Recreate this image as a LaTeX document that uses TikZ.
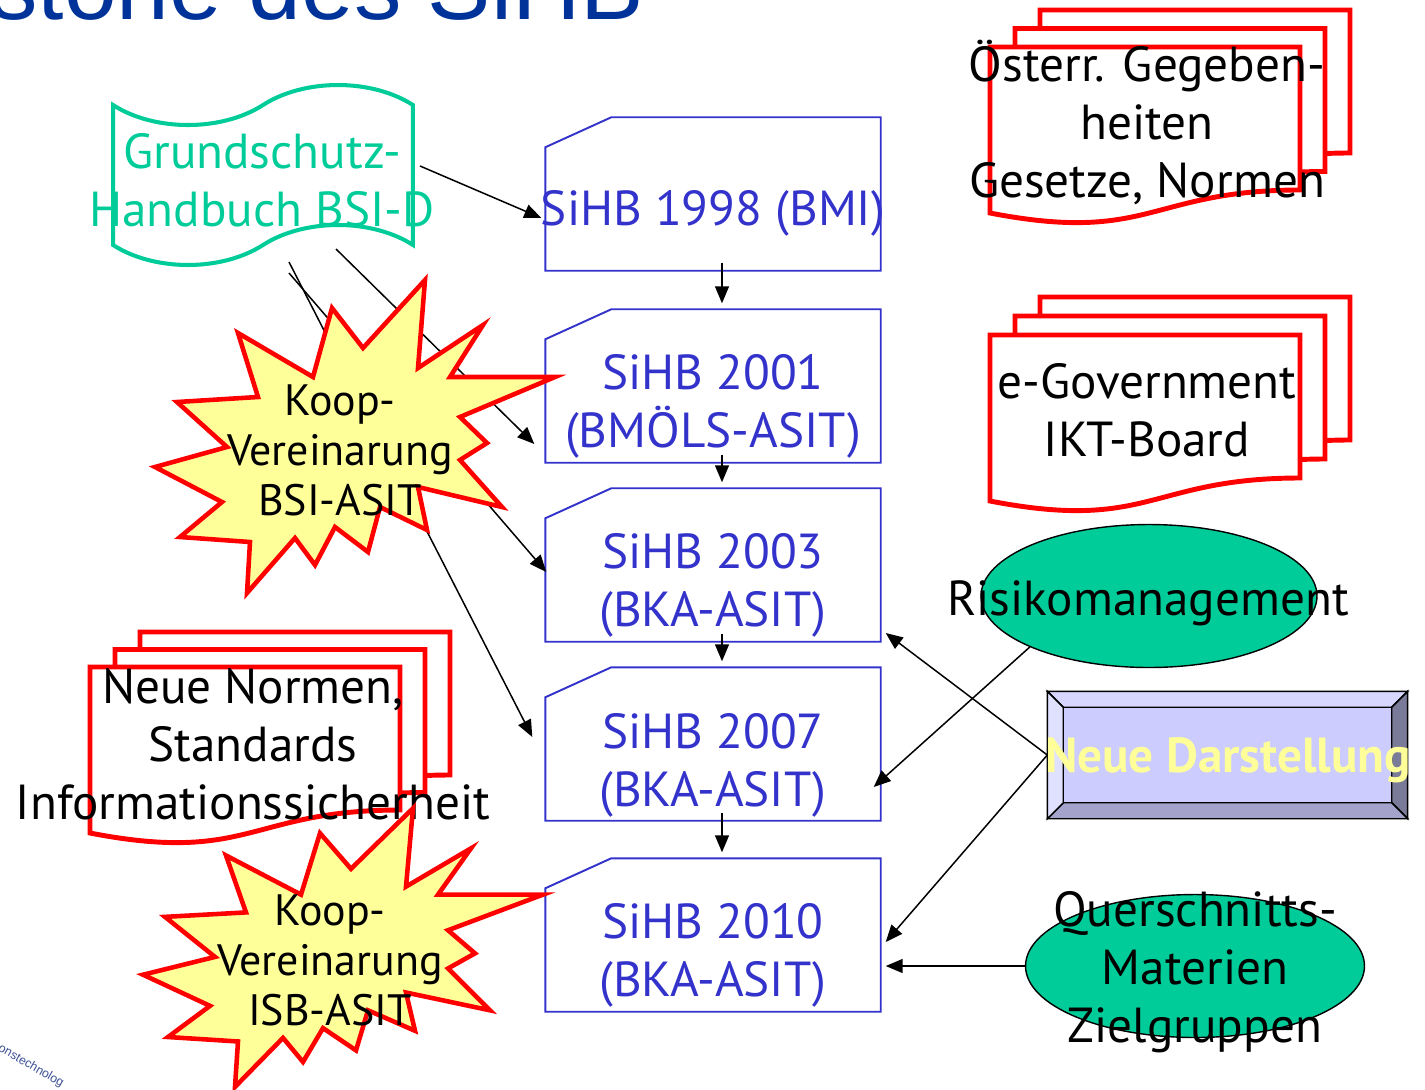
\documentclass[tikz,border=0pt]{standalone}
\usepackage{fontspec}
\setmainfont{PT Sans}
\newfontfamily\titlefont{Liberation Sans}
\usetikzlibrary{arrows.meta,shapes,positioning,calc}

\definecolor{sihbblue}{RGB}{51,51,204}
\definecolor{gsgreen}{RGB}{0,204,153}
\definecolor{burstyellow}{RGB}{255,255,153}
\definecolor{titleblue}{RGB}{0,51,153}
\definecolor{ndface}{RGB}{204,204,255}
\definecolor{ndtop}{RGB}{214,214,255}
\definecolor{ndleft}{RGB}{224,224,255}
\definecolor{ndbottom}{RGB}{163,163,204}
\definecolor{ndright}{RGB}{122,122,153}
\definecolor{logoblue}{RGB}{60,80,150}

\tikzset{
  bigtext/.style={font=\fontsize{28}{33}\selectfont, align=center, inner sep=0pt},
  bursttext/.style={font=\fontsize{25}{28.5}\selectfont, align=center, inner sep=0pt},
  sihb/.style={minimum width=6.68cm, minimum height=3.04cm, inner sep=0pt},
  sihbline/.style={draw=sihbblue, line width=1.1pt},
  docline/.style={draw=red, fill=white, line width=2.8pt},
  burstline/.style={draw=red, fill=burstyellow, line width=2.6pt},
  ell/.style={ellipse, draw=black, fill=gsgreen, line width=0.8pt,
    minimum width=6.72cm, minimum height=2.86cm, inner sep=0pt},
  docpage/.pic={
    \path[docline] (0,0) -- (310,0) -- (310,143)
      .. controls (160,143) and (160,197) .. (0,166) -- cycle;
  },
  burst/.pic={
    \path[burstline] (85,-157) -- (78,-69) -- (143,-112) -- (110,-60) -- (215,-60)
      -- (120,-20) -- (147,6) -- (120,23) -- (162,70) -- (78,50) -- (87,93)
      -- (40,70) -- (28,115) -- (-5,90) -- (-25,128) -- (-45,101) -- (-93,156)
      -- (-90,105) -- (-160,100) -- (-118,65) -- (-185,30) -- (-113,10)
      -- (-163,-35) -- (-82,-40) -- (-102,-104) -- (-27,-60) -- (-8,-129)
      -- (23,-89) -- cycle;
  },
}

\begin{document}
\begin{tikzpicture}[x=0.02cm, y=-0.02cm, line width=0.85pt,
    >={Triangle[length=0.34cm, width=0.28cm]}]
  \useasboundingbox (0,0) rectangle (1425,1089);
  \clip (0,0) rectangle (1425,1089);

  % title, cut off at the top
  \node[anchor=base east, inner sep=0pt, text=titleblue,
    font=\titlefont\fontsize{54}{60}\selectfont] (title) at (645,19) {stone des SiHB};

  % document stacks
  \foreach \d in {2,1,0} {
    \pic[shift={(25*\d,-18.5*\d)}] at (990,47) {docpage};
    \pic[shift={(25*\d,-19*\d)}] at (990,335) {docpage};
    \pic[shift={(25*\d,-17.5*\d)}] at (90,667) {docpage};
  }
  \node[bigtext] (oest) at (1147,122) {Österr. Gegeben-\\heiten\\Gesetze, Normen};
  \node[bigtext] (egov) at (1147,410) {e-Government\\IKT-Board};
  \node[bigtext] (normen) at (253,744) {Neue Normen,\\Standards\\Informationssicherheit};

  % Grundschutzhandbuch
  \node[tape, draw=gsgreen, line width=2.3pt, minimum width=6cm, minimum height=3.6cm,
    tape bend height=0.8cm] (gs) at (263,175) {};
  \node[bigtext, text=gsgreen] (gstext) at (262,180) {Grundschutz-\\Handbuch BSI-D};

  % SiHB versions
  \node[sihb] (b98) at (713,194) {};
  \node[sihb] (b01) at (713,386) {};
  \node[sihb] (b03) at (713,565) {};
  \node[sihb] (b07) at (713,744) {};
  \node[sihb] (b10) at (713,935) {};
  \foreach \n in {b98,b01,b03,b07,b10}
    \draw[sihbline] ($(\n.north west)+(0,30)$) -- ($(\n.north west)+(66,0)$)
      -- (\n.north east) -- (\n.south east) -- (\n.south west) -- cycle;
  \node[bigtext, text=sihbblue] (t98) at (713,213) {SiHB 1998 (BMI)};
  \node[bigtext, text=sihbblue] (t01) at (713,406) {SiHB 2001\\(BMÖLS-ASIT)};
  \node[bigtext, text=sihbblue] (t03) at (713,585) {SiHB 2003\\(BKA-ASIT)};
  \node[bigtext, text=sihbblue] (t07) at (713,765) {SiHB 2007\\(BKA-ASIT)};
  \node[bigtext, text=sihbblue] (t10) at (713,955) {SiHB 2010\\(BKA-ASIT)};

  \foreach \a/\b in {b98/b01,b01/b03,b03/b07,b07/b10}
    \path[->] ($(\a.south)+(9,-8)$) edge ($(\b.north)+(9,-6)$);

  % right hand side
  \node[ell] (risk) at (1149,596) {};
  \node[bigtext] (risktext) at (1148,603) {Risikomanagement};
  \node[ell, minimum width=6.78cm] (quer) at (1195,966) {};
  \node[bigtext] (quertext) at (1195,972) {Querschnitts-\\Materien\\Zielgruppen};

  \node[minimum width=7.18cm, minimum height=2.52cm, inner sep=0pt] (nd) at (1227.5,755) {};
  \coordinate (nd-inw) at ($(nd.north west)+(16,16)$);
  \coordinate (nd-ine) at ($(nd.north east)+(-16,16)$);
  \coordinate (nd-ise) at ($(nd.south east)+(-16,-16)$);
  \coordinate (nd-isw) at ($(nd.south west)+(16,-16)$);
  \filldraw[fill=ndtop] (nd.north west) -- (nd.north east) -- (nd-ine) -- (nd-inw) -- cycle;
  \filldraw[fill=ndright] (nd.north east) -- (nd.south east) -- (nd-ise) -- (nd-ine) -- cycle;
  \filldraw[fill=ndbottom] (nd.south east) -- (nd.south west) -- (nd-isw) -- (nd-ise) -- cycle;
  \filldraw[fill=ndleft] (nd.south west) -- (nd.north west) -- (nd-inw) -- (nd-isw) -- cycle;
  \filldraw[fill=ndface] (nd-inw) rectangle (nd-ise);
  \node[bigtext, font=\bfseries\fontsize{28}{33}\selectfont, text=burstyellow] (ndtext)
    at (1228,760) {Neue Darstellung};

  % connectors
  \path[->] ($(gs.east)+(5,-9)$) edge ($(b98.west)+(-4,24)$);
  \path[->] ($(gs.center)+(73,74)$) edge ($(b01.west)+(-11,58)$);
  \path[->] ($(gs.center)+(26,98)$) edge ($(b03.west)+(1,7)$);
  \path[->] ($(gs.center)+(26,87)$) edge ($(b07.west)+(-13,-7)$);
  \path[->] (risk.south west) edge ($(b07.east)+(-7,43)$);
  \path[->] (nd.west) edge ($(b03.east)+(5,68)$);
  \path[->] (nd.west) edge ($(b10.east)+(5,7)$);
  \path[->] (quer.west) edge ($(b10.east)+(5,31)$);

  % cooperation agreements
  \pic at (340,437) {burst};
  \node[bursttext] (koop1) at (340,450) {Koop-\\Vereinarung\\BSI-ASIT};
  \pic[yscale=0.89] at (328,948) {burst};
  \node[bursttext] (koop2) at (330,960) {Koop-\\Vereinarung\\ISB-ASIT};

  % logo fragment
  \node[rotate=-30, text=logoblue, font=\titlefont\fontsize{7}{8}\selectfont]
    (logo) at (31,1066) {onstechnolog};
\end{tikzpicture}
\end{document}
